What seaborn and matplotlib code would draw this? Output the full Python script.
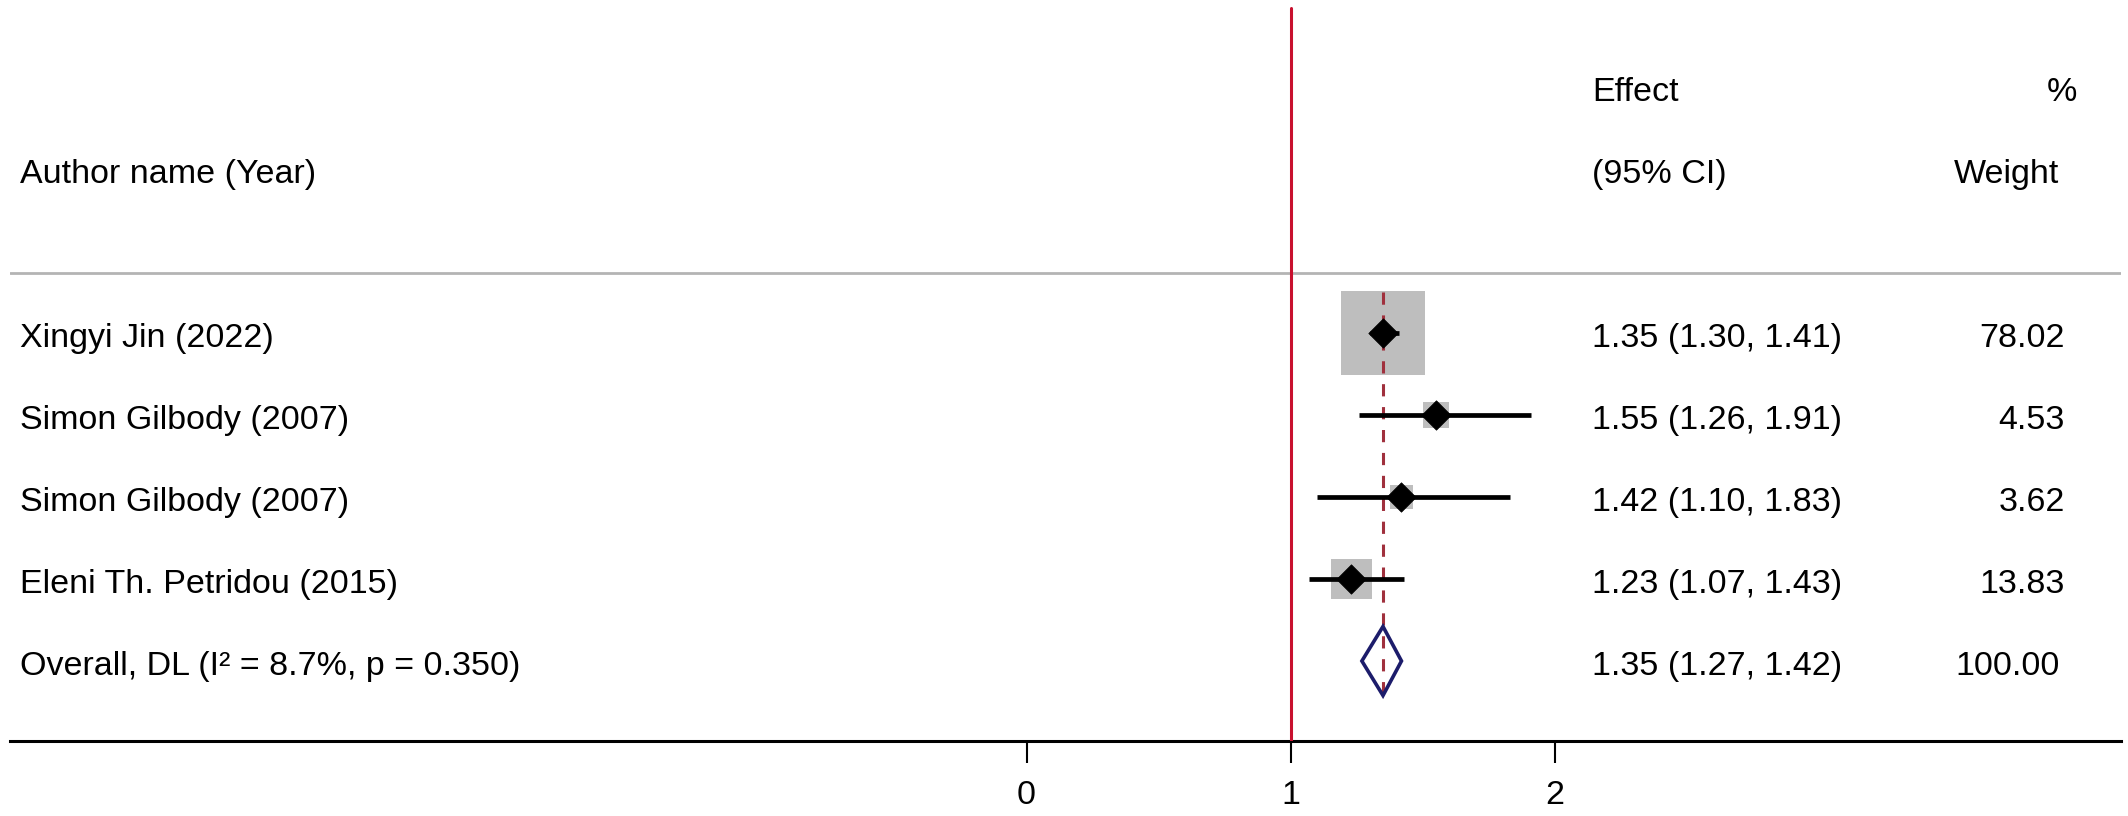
import numpy as np
import pandas as pd
import matplotlib
matplotlib.use("Agg")
import matplotlib.pyplot as plt
from matplotlib.patches import Polygon
import seaborn as sns

# study data
authors = ["Xingyi Jin (2022)", "Simon Gilbody (2007)", "Simon Gilbody (2007)",
           "Eleni Th. Petridou (2015)"]
effect = [1.35, 1.55, 1.42, 1.23]
ci_low = [1.30, 1.26, 1.10, 1.07]
ci_high = [1.41, 1.91, 1.83, 1.43]
weight = [78.02, 4.53, 3.62, 13.83]

overall_label = "Overall, DL (I\u00b2 = 8.7%, p = 0.350)"
overall_effect = 1.35
overall_low = 1.27
overall_high = 1.42
overall_weight = 100.00

xticks = [0, 1, 2]

sns.set_style("white")
plt.rcParams['font.family'] = ['Liberation Sans', 'DejaVu Sans']
plt.rcParams['text.color'] = 'black'
plt.rcParams['xtick.color'] = 'black'
plt.rcParams['xtick.labelcolor'] = 'black'

FS = 24.5
PX = 100 / 72  # pixels per point at dpi 100
ROW_PX = 82.0


def px_to_row(py):
    # first study row sits at 333 px from the top, rows are 82 px apart
    return 1 + (py - 333) / ROW_PX


df = pd.DataFrame({
    "author": authors,
    "effect": effect,
    "low": ci_low,
    "high": ci_high,
    "weight": weight,
})
df["row"] = np.arange(1, len(df) + 1)
overall_row = len(df) + 1

# box side grows with the study weight
box_side_px = {w: 84 * (w / max(weight)) ** 0.42 for w in weight}
box_area = {w: (s / PX) ** 2 for w, s in box_side_px.items()}

fig = plt.figure(figsize=(21.28, 8.16), dpi=100)
ax = fig.add_axes([10 / 2128, 75 / 816, 2111 / 2128, 741 / 816])

ax.set_xlim(1 - 1280.6 / 264, 1 + 830.4 / 264)
ax.set_ylim(px_to_row(741), px_to_row(0))

# weight boxes
sns.scatterplot(data=df, x="effect", y="row", size="weight", sizes=box_area,
                marker="s", color="#bebebe", edgecolor="none", linewidth=0,
                legend=False, ax=ax, zorder=2)

# pooled estimate (dashed) and null line
ax.vlines(overall_effect, 1 - 0.5, overall_row + 0.5, color="#a0303d",
          linewidth=2.2, linestyles=(0, (4, 3.5)), zorder=3)
ax.axvline(1, ymin=0, ymax=(741 - 8) / 741, color="#c8102e", linewidth=2.2,
           zorder=3)

# confidence intervals
ax.hlines(df["row"], df["low"], df["high"], color="black", linewidth=3.4,
          zorder=4)
sns.scatterplot(data=df, x="effect", y="row", marker="D", color="black",
                s=15 ** 2, edgecolor="black", linewidth=0.5,
                legend=False, ax=ax, zorder=5)

# overall diamond
h = 34.5 / ROW_PX
diamond = Polygon([(overall_low, overall_row), (overall_effect, overall_row - h),
                   (overall_high, overall_row), (overall_effect, overall_row + h)],
                  closed=True, fill=False, edgecolor="#1c1c6b", linewidth=2.6,
                  zorder=4)
ax.add_patch(diamond)

# header line
ax.axhline(px_to_row(273), color="#b4b4b4", linewidth=2.0, zorder=1)

# text columns
x_name = ax.get_xlim()[0] + 10 / 264
x_eff = 1 + 301.4 / 264
x_wt = 1 + 774 / 264
base = 14 / ROW_PX

ax.text(x_name, px_to_row(183), "Author name (Year)", fontsize=FS, va="baseline")
ax.text(x_eff, px_to_row(101), "Effect", fontsize=FS, va="baseline")
ax.text(x_eff, px_to_row(183), "(95% CI)", fontsize=FS, va="baseline")
ax.text(1 + 787 / 264, px_to_row(101), "%", fontsize=FS, va="baseline", ha="right")
ax.text(1 + 769 / 264, px_to_row(183), "Weight", fontsize=FS, va="baseline", ha="right")

for _, r in df.iterrows():
    ax.text(x_name, r["row"] + base, r["author"], fontsize=FS, va="baseline")
    ax.text(x_eff, r["row"] + base,
            f"{r['effect']:.2f} ({r['low']:.2f}, {r['high']:.2f})",
            fontsize=FS, va="baseline")
    ax.text(x_wt, r["row"] + base, f"{r['weight']:.2f}", fontsize=FS,
            va="baseline", ha="right")

ax.text(x_name, overall_row + base, overall_label, fontsize=FS, va="baseline")
ax.text(x_eff, overall_row + base,
        f"{overall_effect:.2f} ({overall_low:.2f}, {overall_high:.2f})",
        fontsize=FS, va="baseline")
ax.text(x_wt - 5 / 264, overall_row + base, f"{overall_weight:.2f}", fontsize=FS,
        va="baseline", ha="right")

# axes styling
for side in ["top", "left", "right"]:
    ax.spines[side].set_visible(False)
ax.spines["bottom"].set_linewidth(2.2)
ax.spines["bottom"].set_color("black")
ax.set_yticks([])
ax.set_xticks(xticks)
ax.set_xticklabels([str(t) for t in xticks])
ax.tick_params(axis="x", direction="out", length=16, width=1.5, pad=12,
               labelsize=FS, bottom=True, color="black", labelcolor="black")
ax.set_xlabel("")
ax.set_ylabel("")

fig.savefig("out.png", dpi=100, facecolor="white")
